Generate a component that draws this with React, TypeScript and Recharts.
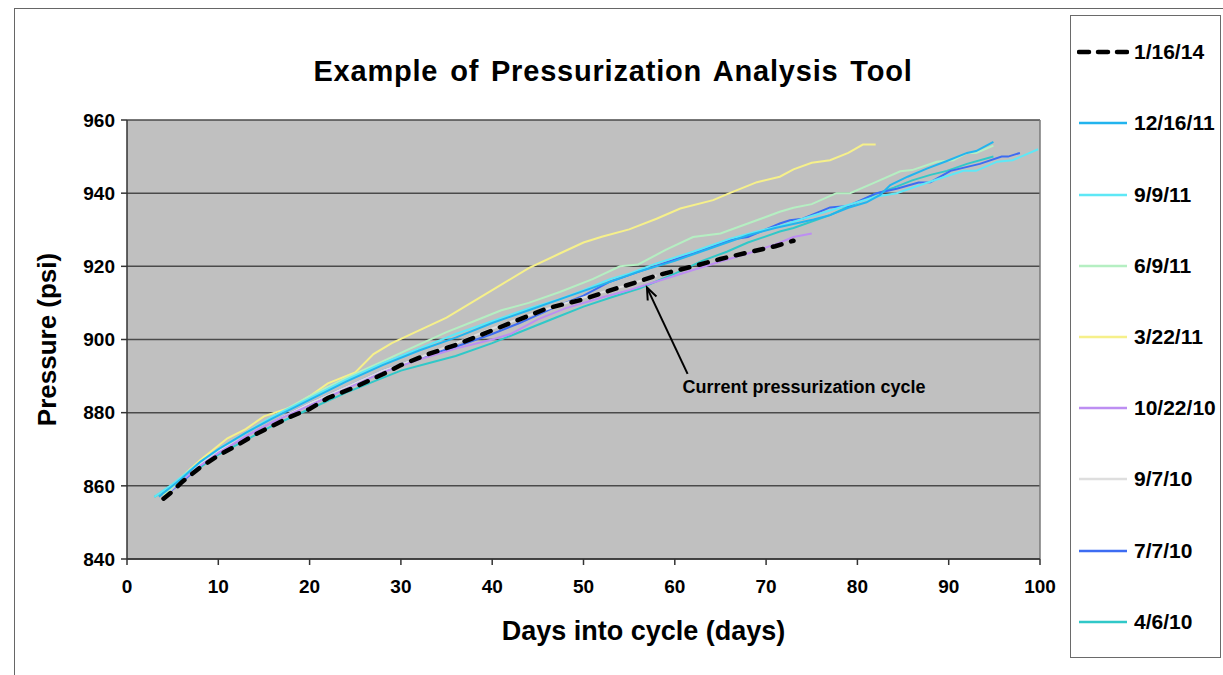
import React from 'react';
import { LineChart, Line, XAxis, YAxis, CartesianGrid, ReferenceLine, ReferenceDot } from 'recharts';

// ---- Data (days into cycle, pressure psi) ----
const days_1_16_14 = [4, 5, 6, 8, 10, 12, 14, 16, 18, 20, 22, 25, 28, 30, 33, 36, 40, 43, 46, 50, 53, 56, 58, 62, 65, 68, 71, 73];
const psi_1_16_14 = [856.5, 858.5, 861, 865, 868.3, 871, 874, 876.5, 879, 881, 884, 887, 890.5, 893, 896, 898.5, 902.5, 905.5, 908.5, 911, 913.5, 915.8, 917.5, 920, 922, 923.8, 925.5, 927];

const days_12_16_11 = [3.5, 6, 8, 10, 13, 16, 20, 24, 28, 32, 36, 40, 44, 48, 52, 56, 60, 64, 68, 71, 75.2, 77, 79, 81, 82.5, 83.6, 85.5, 87.6, 89.8, 92, 93, 94.9];
const psi_12_16_11 = [857, 862, 866.5, 870, 874.5, 878.5, 883.5, 888.5, 893, 897, 900.5, 904.5, 908, 911.5, 915, 918.5, 921.5, 925, 928.5, 930.5, 932.8, 934, 936, 937.5, 939.5, 942.2, 944.5, 946.7, 948.8, 951, 951.5, 954];

const days_9_9_11 = [3, 5, 8, 10, 13, 16, 20, 24, 28, 32, 36, 40, 44, 47.4, 50, 52.9, 55, 58, 62, 66, 69, 71.5, 74, 76, 78, 80, 82, 84.3, 86.5, 89, 91.6, 93, 95.3, 97, 99.8];
const psi_9_9_11 = [857, 860.5, 866.5, 870, 874.5, 879, 884, 889, 893.5, 897.5, 901.5, 905, 908.5, 911, 913.5, 916.5, 918, 920.8, 924, 927.5, 929.5, 931, 933, 934.5, 936, 937.5, 939, 940, 941.9, 944, 946.1, 946.1, 948.6, 949, 952];

const days_6_9_11 = [4, 6, 8, 10, 13, 16, 20, 24, 28, 31, 35, 38, 41, 44, 47.4, 51, 54, 56, 59, 62, 65, 68, 71.5, 73, 75, 77.7, 79.2, 82, 84.7, 86, 88.7, 90.5, 92, 93, 94.9];
const psi_6_9_11 = [857, 862, 866.5, 870, 874.5, 879, 884.5, 889.5, 894, 897.5, 902, 905, 908, 910, 913, 916.5, 920, 920.5, 924.5, 928, 929, 931.7, 934.9, 936, 937, 940, 940, 943, 946, 946.3, 948.6, 949, 951, 951, 953];

const days_3_22_11 = [4, 6, 8, 11, 13, 15, 18, 20, 22, 25, 27, 29, 32, 35, 38, 41, 44, 47.4, 50, 52, 55, 58, 60.6, 64.2, 66, 69, 71.5, 73, 75, 77, 79, 80.6, 82];
const psi_3_22_11 = [857.5, 862.5, 867, 873, 875.5, 879, 881.5, 884.5, 888, 891, 896, 899, 902.5, 906, 910.5, 915, 919.5, 923.5, 926.5, 928.1, 930.1, 933, 935.8, 938.1, 940, 943, 944.5, 946.5, 948.3, 949, 951, 953.3, 953.3];

const days_10_22_10 = [4, 6, 8, 10, 13, 16, 20, 24, 28, 32, 36, 40, 42, 45, 48, 52, 55, 59.5, 62, 65, 68, 71, 73, 75];
const psi_10_22_10 = [857, 861.5, 865.5, 869, 873.5, 877.5, 882, 886.5, 891, 894.5, 897.5, 900, 901.5, 905.5, 908.5, 911.5, 913.5, 917, 919, 921.3, 923.5, 926, 928, 929];

const days_9_7_10 = [4, 6, 8, 10, 13, 16, 20, 24, 28, 32, 36, 40, 45, 50, 55, 58];
const psi_9_7_10 = [857, 861.5, 866, 869.5, 873.5, 877.5, 882.5, 887, 891.5, 895, 899, 903, 907.5, 911.5, 915, 917.5];

const days_7_7_10 = [4, 6, 8, 10, 13, 16, 20, 24, 28, 32, 36, 40, 43, 47, 50, 52.9, 56, 59.8, 62.8, 66.4, 68, 71.5, 72.6, 74, 77, 79, 82.1, 84.3, 86.7, 88, 90.2, 93.4, 95.8, 96.5, 97.8];
const psi_7_7_10 = [857, 861, 865.5, 869, 873.5, 877.5, 882.5, 887, 891.5, 895, 898, 901.5, 904.5, 909, 912, 915.8, 918.5, 921.7, 924.4, 927.4, 928, 931.7, 932.6, 933, 936.1, 936.5, 940, 941.2, 942.9, 943, 946.1, 948, 950, 950, 951];

const days_4_6_10 = [3, 5, 8, 10, 13, 16, 20, 24, 28, 30, 33, 36, 40, 44, 47, 50, 53, 56.2, 60, 63, 65.7, 68, 71.5, 73, 77, 80, 81.7, 84, 86, 88, 89.8, 92, 94.9];
const psi_4_6_10 = [857, 860, 865, 868.5, 872.5, 876.5, 881, 885.5, 889.5, 891.5, 893.5, 895.5, 899, 903, 906, 909, 911.5, 914, 918, 921.5, 924, 926.5, 929.5, 930.5, 934, 937.5, 939.5, 941.5, 943.5, 945, 946.1, 948, 950];

const xTicks = [0, 10, 20, 30, 40, 50, 60, 70, 80, 90, 100];
const yTicks = [840, 860, 880, 900, 920, 940, 960];

const TITLE = 'Example of Pressurization Analysis Tool';
const X_LABEL = 'Days into cycle (days)';
const Y_LABEL = 'Pressure (psi)';
const NOTE_TEXT = 'Current pressurization cycle';
const NOTE_TEXT_AT = { x: 60.3, y: 887 };
const ARROW_TAIL = { x: 61.4, y: 890.6 };
const ARROW_HEAD = { x: 56.95, y: 914.2 };

const toPoints = (days: number[], psi: number[]) => days.map((d, i) => ({ day: d, psi: psi[i] }));

type Series = { name: string; days: number[]; psi: number[]; color: string; width: number; dash?: string };

// Legend order (top to bottom)
const legendSeries: Series[] = [
  { name: '1/16/14', days: days_1_16_14, psi: psi_1_16_14, color: '#000000', width: 4.5, dash: '9 10' },
  { name: '12/16/11', days: days_12_16_11, psi: psi_12_16_11, color: '#22b4ee', width: 2 },
  { name: '9/9/11', days: days_9_9_11, psi: psi_9_9_11, color: '#5ee8f6', width: 2 },
  { name: '6/9/11', days: days_6_9_11, psi: psi_6_9_11, color: '#b5efc2', width: 2 },
  { name: '3/22/11', days: days_3_22_11, psi: psi_3_22_11, color: '#f6f08a', width: 2 },
  { name: '10/22/10', days: days_10_22_10, psi: psi_10_22_10, color: '#bd8ef2', width: 2 },
  { name: '9/7/10', days: days_9_7_10, psi: psi_9_7_10, color: '#dedede', width: 2 },
  { name: '7/7/10', days: days_7_7_10, psi: psi_7_7_10, color: '#3d6cf2', width: 2 },
  { name: '4/6/10', days: days_4_6_10, psi: psi_4_6_10, color: '#30c8c8', width: 2 },
];

// Drawing order: oldest first, current cycle on top
const drawOrder = [...legendSeries].reverse();

const FONT = '"Liberation Sans", Arial, sans-serif';

const ArrowShape = (props: any) => {
  const { x1, y1, x2, y2 } = props;
  if ([x1, y1, x2, y2].some((v) => typeof v !== 'number' || isNaN(v))) return null;
  const ang = Math.atan2(y2 - y1, x2 - x1);
  const len = 13;
  const spread = 0.38;
  const ax = x2 - len * Math.cos(ang - spread);
  const ay = y2 - len * Math.sin(ang - spread);
  const bx = x2 - len * Math.cos(ang + spread);
  const by = y2 - len * Math.sin(ang + spread);
  return (
    <g>
      <line x1={x1} y1={y1} x2={x2} y2={y2} stroke="#000" strokeWidth={2} />
      <polyline points={`${ax},${ay} ${x2},${y2} ${bx},${by}`} fill="none" stroke="#000" strokeWidth={2} />
    </g>
  );
};

export default function App() {
  return (
    <div style={{ position: 'absolute', left: 0, top: 0, width: 1223, height: 675, background: '#fff', overflow: 'hidden', fontFamily: FONT }}>
      {/* chart frame */}
      <div style={{ position: 'absolute', left: 14, top: 8, width: 1220, height: 700, borderLeft: '1.5px solid #666', borderTop: '1.5px solid #666' }} />
      {/* title */}
      <div style={{ position: 'absolute', left: 0, top: 55, width: 1226, textAlign: 'center', fontWeight: 'bold', fontSize: 29, letterSpacing: 0.8, wordSpacing: 3, color: '#000' }}>
        {TITLE}
      </div>
      <div style={{ position: 'absolute', left: 0, top: 0 }}>
        <LineChart width={1060} height={675} margin={{ top: 120, right: 20, bottom: 86, left: 7 }}>
          <CartesianGrid vertical={false} stroke="#4a4a4a" strokeWidth={1.5} fill="#c0c0c0" fillOpacity={1} />
          <XAxis
            type="number"
            dataKey="day"
            domain={[0, 100]}
            ticks={xTicks}
            allowDataOverflow
            height={30}
            tickSize={6}
            tickMargin={15}
            axisLine={{ stroke: '#333', strokeWidth: 1.5 }}
            tickLine={{ stroke: '#333', strokeWidth: 1.5 }}
            tick={{ fill: '#000', fontSize: 19, fontWeight: 'bold', fontFamily: FONT }}
            label={{ value: X_LABEL, position: 'bottom', offset: 32, dx: 60, fill: '#000', fontSize: 27, fontWeight: 'bold', fontFamily: FONT, style: { fontSize: 27, fontWeight: 'bold', fontFamily: FONT } }}
          />
          <YAxis
            type="number"
            dataKey="psi"
            domain={[840, 960]}
            ticks={yTicks}
            allowDataOverflow
            width={120}
            tickSize={6}
            tickMargin={6}
            axisLine={{ stroke: '#333', strokeWidth: 1.5 }}
            tickLine={{ stroke: '#333', strokeWidth: 1.5 }}
            tick={{ fill: '#000', fontSize: 19, fontWeight: 'bold', fontFamily: FONT }}
            label={{ value: Y_LABEL, angle: -90, position: 'insideLeft', offset: 40, fill: '#000', style: { textAnchor: 'middle', fontSize: 26, fontWeight: 'bold', fontFamily: FONT } }}
          />
          <ReferenceLine x={100} stroke="#7a7a7a" strokeWidth={1.5} />
          {drawOrder.map((s) => (
            <Line
              key={s.name}
              name={s.name}
              data={toPoints(s.days, s.psi)}
              dataKey="psi"
              type="linear"
              stroke={s.color}
              strokeWidth={s.width}
              strokeDasharray={s.dash}
              strokeLinecap={s.dash ? 'round' : 'butt'}
              dot={false}
              activeDot={false}
              isAnimationActive={false}
            />
          ))}
          <ReferenceLine segment={[ARROW_TAIL, ARROW_HEAD]} shape={ArrowShape} ifOverflow="visible" />
          <ReferenceDot
            x={NOTE_TEXT_AT.x}
            y={NOTE_TEXT_AT.y}
            r={0}
            fill="none"
            stroke="none"
            label={{ value: NOTE_TEXT, position: 'right', offset: 5, fill: '#000', style: { fontSize: 18, fontWeight: 'bold', fontFamily: FONT } }}
          />
        </LineChart>
      </div>
      {/* legend */}
      <div style={{ position: 'absolute', left: 1070, top: 15, width: 149, height: 641, border: '1.5px solid #6a6a6a', background: '#fff' }}>
        {legendSeries.map((s, i) => (
          <div key={s.name} style={{ position: 'absolute', left: 6, top: 24.2 + i * 71.2, height: 24, display: 'flex', alignItems: 'center' }}>
            <svg width={52} height={10} style={{ display: 'block' }}>
              <line x1={2} y1={5} x2={50} y2={5} stroke={s.color} strokeWidth={s.dash ? 4.5 : 2.5} strokeDasharray={s.dash ? '10 9' : undefined} strokeLinecap={s.dash ? 'round' : 'butt'} />
            </svg>
            <span style={{ marginLeft: 5, fontSize: 21, fontWeight: 'bold', color: '#000', whiteSpace: 'nowrap' }}>{s.name}</span>
          </div>
        ))}
      </div>
    </div>
  );
}
